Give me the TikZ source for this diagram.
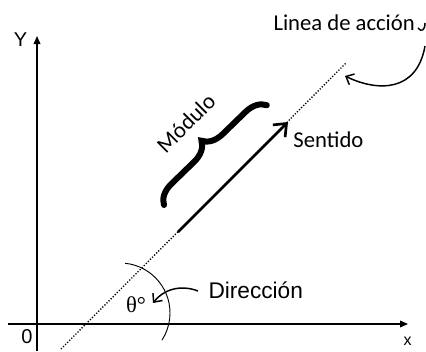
\documentclass[tikz,border=0pt]{standalone}
\usepackage{fontspec}
\newfontfamily\calibrifont{Carlito}
\newfontfamily\arialfont{Liberation Sans}
\newfontfamily\timesfont{Liberation Serif}
\usetikzlibrary{arrows.meta,decorations.pathreplacing}

\tikzset{every picture/.style={line width=0.75pt}}
\tikzset{
  axisline/.style={line width=1.1pt,-{Triangle[length=6pt,width=5pt]}},
  labeltext/.style={inner sep=0pt,font=\calibrifont\fontsize{17}{20}\selectfont},
  pointer/.style={line width=1.1pt,-{Straight Barb[length=5pt,width=9pt]}}
}

\begin{document}
\begin{tikzpicture}[x=0.75pt,y=0.75pt,yscale=-1,xscale=1]
\useasboundingbox (0,0) rectangle (426,351);

% Coordinates
\coordinate (ybottom) at (37,351);
\coordinate (ytop) at (37,36);
\coordinate (xleft) at (8,324);
\coordinate (xright) at (408,324);
\coordinate (linestart) at (61,349);
\coordinate (lineend) at (346,63);
\coordinate (vectail) at (178,232);
\coordinate (vectip) at (288,122);
\coordinate (bracelow) at (164,205);
\coordinate (bracehigh) at (267,105);
\coordinate (hooktop) at (425,46);
\coordinate (hooktip) at (345,76);
\coordinate (dirstart) at (198,291);
\coordinate (dirtip) at (153,303);

%Straight Lines: axes
\draw [axisline] (ybottom) -- (ytop);
\draw [axisline] (xleft) -- (xright);

%Straight Lines: line of action
\draw [line width=1pt,dash pattern=on 0.9pt off 1.3pt] (linestart) -- (lineend);

%Straight Lines: force vector
\draw [line width=2pt,-{Straight Barb[length=8pt,width=13pt]}] (vectail) -- (vectip);

%Shape: Brace
\draw [decorate,decoration={brace,amplitude=15pt},line width=4.5pt,line cap=round] (bracelow) -- (bracehigh);

%Shape: Arc
\draw [line width=0.7pt] (120,313) ++(-84:50) arc [start angle=-84,end angle=33,radius=50];

%Curve Lines
\draw [pointer] (hooktop) .. controls (417,92) and (378,92) .. (hooktip);
\draw [line width=1.1pt] (425,23) .. controls (425,31) and (421,32) .. (418,28);
\draw [pointer] (dirstart) .. controls (180,284) and (163,290) .. (dirtip);

% Text Node
\draw (20.5,40) node (ylabel) [inner sep=0pt,font=\arialfont\fontsize{15}{18}\selectfont] {Y};
% Text Node
\draw (27,337) node (origin) [inner sep=0pt,font=\arialfont\fontsize{15}{18}\selectfont] {0};
% Text Node
\draw (407.5,341) node (xlabel) [inner sep=0pt,font=\arialfont\fontsize{12}{14}\selectfont] {x};
% Text Node
\draw (273,30) node (action) [labeltext,anchor=base west] {Linea de acción};
% Text Node
\draw (293,147) node (sense) [labeltext,anchor=base west] {Sentido};
% Text Node
\draw (186,123) node (modulus) [labeltext,rotate=45] {Módulo};
% Text Node
\draw (208,298) node (direction) [inner sep=0pt,anchor=base west,font=\arialfont\fontsize{17}{20}\selectfont] {Dirección};
% Text Node
\draw (136,305) node (angle) [inner sep=0pt,font=\timesfont\fontsize{17}{20}\selectfont] {θ°};

\end{tikzpicture}
\end{document}
